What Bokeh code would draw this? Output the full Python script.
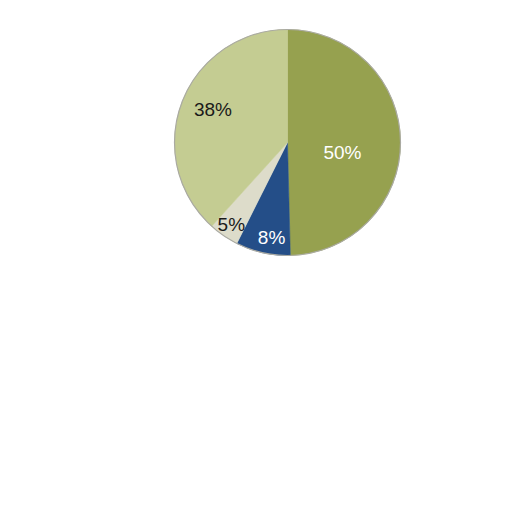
import math
from bokeh.plotting import figure
from bokeh.models import Range1d, ColumnDataSource
from bokeh.embed import file_html
from bokeh.resources import INLINE
from bokeh.core.properties import value

# data
categories = ["A", "B", "C", "D"]
values = [49.6, 7.8, 4.3, 38.3]
labels = ["50%", "8%", "5%", "38%"]

# styling
colors = ["#96a14f", "#244e88", "#dddcca", "#c4cc92"]
text_colors = ["#ffffff", "#ffffff", "#1a1a1a", "#1a1a1a"]
label_r = [0.495, 0.855, 0.88, 0.72]
label_shift = [0.20, -0.054, 0.0, 0.045]  # radians, extra clockwise shift

W, H = 496, 496
cx, cy = 287, 142  # pie centre in canvas px (from top-left)
R = 113

p = figure(width=W, height=H, output_backend="svg", toolbar_location=None,
           x_range=Range1d(-cx, W - cx), y_range=Range1d(-(H - cy), cy),
           min_border=0)
p.axis.visible = False
p.grid.visible = False
p.outline_line_color = None
p.background_fill_color = "#ffffff"
p.border_fill_color = "#ffffff"

total = sum(values)
starts, ends, lx, ly = [], [], [], []
cum = 0.0
for i, v in enumerate(values):
    a0 = math.pi / 2 - 2 * math.pi * cum / total
    cum += v
    a1 = math.pi / 2 - 2 * math.pi * cum / total
    starts.append(a0)
    ends.append(a1)
    mid = (a0 + a1) / 2 - label_shift[i]
    lx.append(label_r[i] * R * math.cos(mid))
    ly.append(label_r[i] * R * math.sin(mid))

src = ColumnDataSource(dict(start=starts, end=ends, color=colors,
                            lx=lx, ly=ly, label=labels, tc=text_colors))

p.wedge(x=0, y=0, radius=R, start_angle="start", end_angle="end",
        direction="clock", fill_color="color", line_color="color",
        line_width=0.5, source=src)
p.circle(x=0, y=0, radius=R, fill_color=None, line_color="#aaaaa2",
         line_width=1.2)

p.text(x="lx", y="ly", text="label", source=src, text_color="tc",
       text_font=value("Liberation Sans"), text_font_size="19px",
       text_align="center", text_baseline="middle")

open("out.html", "w").write(file_html(p, INLINE))
